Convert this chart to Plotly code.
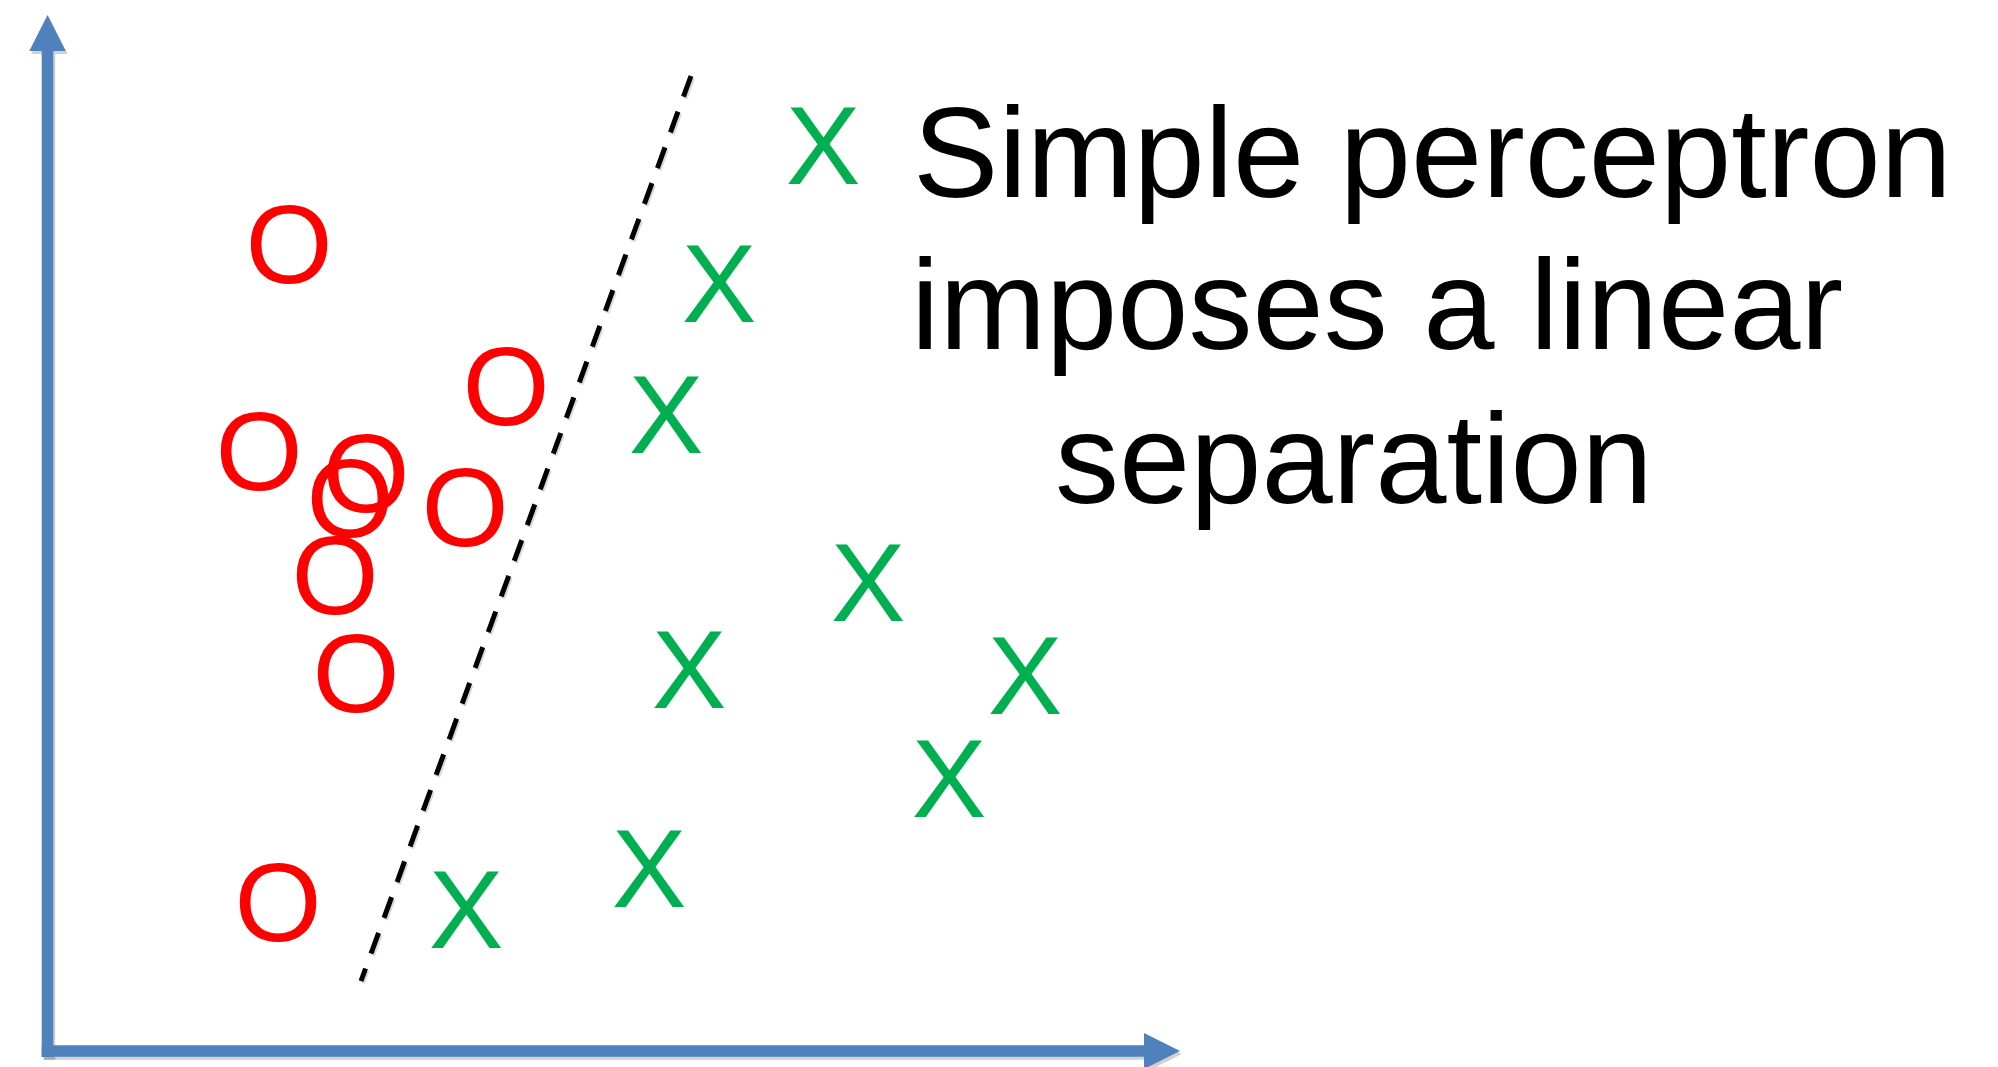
import plotly.graph_objects as go

# ---------------- data (arbitrary units, origin at the corner of the axes) ----------------
red_x = [2.42, 4.59, 2.12, 3.19, 3.03, 4.18, 2.88, 3.09, 2.31]
red_y = [8.07, 6.65, 6.00, 5.78, 5.53, 5.44, 4.76, 3.78, 1.49]
green_x = [7.76, 6.72, 6.19, 8.21, 6.42, 9.78, 9.02, 6.02, 4.19]
green_y = [9.06, 7.68, 6.37, 4.69, 3.82, 3.76, 2.73, 1.83, 1.42]
boundary_x = [6.44, 3.14]
boundary_y = [9.75, 0.70]
caption_lines = ["Simple perceptron", "imposes a linear", "separation"]

# ---------------- layout / style ----------------
W, H = 1998, 1067
X_RANGE = [-0.47, 19.51]
Y_RANGE = [-0.16, 10.51]
PX_PER_UNIT = H / (Y_RANGE[1] - Y_RANGE[0])
FONT = "Liberation Sans, Arial, sans-serif"
GLYPH_SIZE = 112
CAPTION_SIZE = 128
AXIS_BLUE = "#4F81BD"
RED = "#FF0000"
GREEN = "#00B050"
# plotly puts a 'middle center' text baseline 0.25em below the point; glyph centre sits ~0.36em above baseline
TEXT_SHIFT = 0.095 * GLYPH_SIZE / PX_PER_UNIT

fig = go.Figure()

# faint drop shadow of the dashed separator
fig.add_trace(go.Scatter(
    x=[v + 0.015 for v in boundary_x], y=[v - 0.02 for v in boundary_y], mode="lines",
    line=dict(color="rgba(0,0,0,0.15)", width=5, dash="22px,16px"),
    hoverinfo="skip", showlegend=False))

fig.add_trace(go.Scatter(
    x=boundary_x, y=boundary_y, mode="lines",
    line=dict(color="black", width=5, dash="22px,16px"),
    hoverinfo="skip", showlegend=False))

fig.add_trace(go.Scatter(
    x=red_x, y=[v - TEXT_SHIFT for v in red_y], mode="text",
    text=["O"] * len(red_x), textposition="middle center",
    textfont=dict(family=FONT, size=GLYPH_SIZE, color=RED),
    hoverinfo="skip", showlegend=False))

fig.add_trace(go.Scatter(
    x=green_x, y=[v - TEXT_SHIFT for v in green_y], mode="text",
    text=["X"] * len(green_x), textposition="middle center",
    textfont=dict(family=FONT, size=GLYPH_SIZE, color=GREEN),
    hoverinfo="skip", showlegend=False))


def arrow_y(dx=0.0, dy=0.0):
    c, sw, hw = 0.005, 0.058, 0.182
    pts = [(c - sw, -0.06), (c + sw, -0.06), (c + sw, 10.0), (c + hw, 10.0),
           (c, 10.36), (c - hw, 10.0), (c - sw, 10.0)]
    return "M " + " L ".join(f"{x + dx},{y + dy}" for x, y in pts) + " Z"


def arrow_x(dx=0.0, dy=0.0):
    sw, hw = 0.058, 0.18
    pts = [(-0.053, -sw), (10.97, -sw), (10.97, -hw), (11.33, 0.0),
           (10.97, hw), (10.97, sw), (-0.053, sw)]
    return "M " + " L ".join(f"{x + dx},{y + dy}" for x, y in pts) + " Z"


shapes = []
for fn in (arrow_y, arrow_x):
    shapes.append(dict(type="path", xref="x", yref="y", path=fn(0.02, -0.03),
                       fillcolor="rgba(0,0,0,0.18)", line=dict(width=0), layer="below"))
for fn in (arrow_y, arrow_x):
    shapes.append(dict(type="path", xref="x", yref="y", path=fn(),
                       fillcolor=AXIS_BLUE, line=dict(width=0), layer="below"))

caption_pos = [(8.64, 9.72), (8.62, 8.20), (10.06, 6.665)]
annotations = []
for (cx, cy), line in zip(caption_pos, caption_lines):
    annotations.append(dict(x=cx, y=cy, xref="x", yref="y", xanchor="left", yanchor="top",
                            text=line, showarrow=False,
                            font=dict(family=FONT, size=CAPTION_SIZE, color="black")))

fig.update_layout(
    width=W, height=H, margin=dict(l=0, r=0, t=0, b=0),
    paper_bgcolor="white", plot_bgcolor="white",
    xaxis=dict(range=X_RANGE, visible=False, showgrid=False, zeroline=False),
    yaxis=dict(range=Y_RANGE, visible=False, showgrid=False, zeroline=False),
    shapes=shapes, annotations=annotations, showlegend=False,
)

fig.write_html(
    "out.html",
    config={"displayModeBar": False, "staticPlot": True},
    post_script="document.body.style.margin='0';document.body.style.overflow='hidden';",
)
